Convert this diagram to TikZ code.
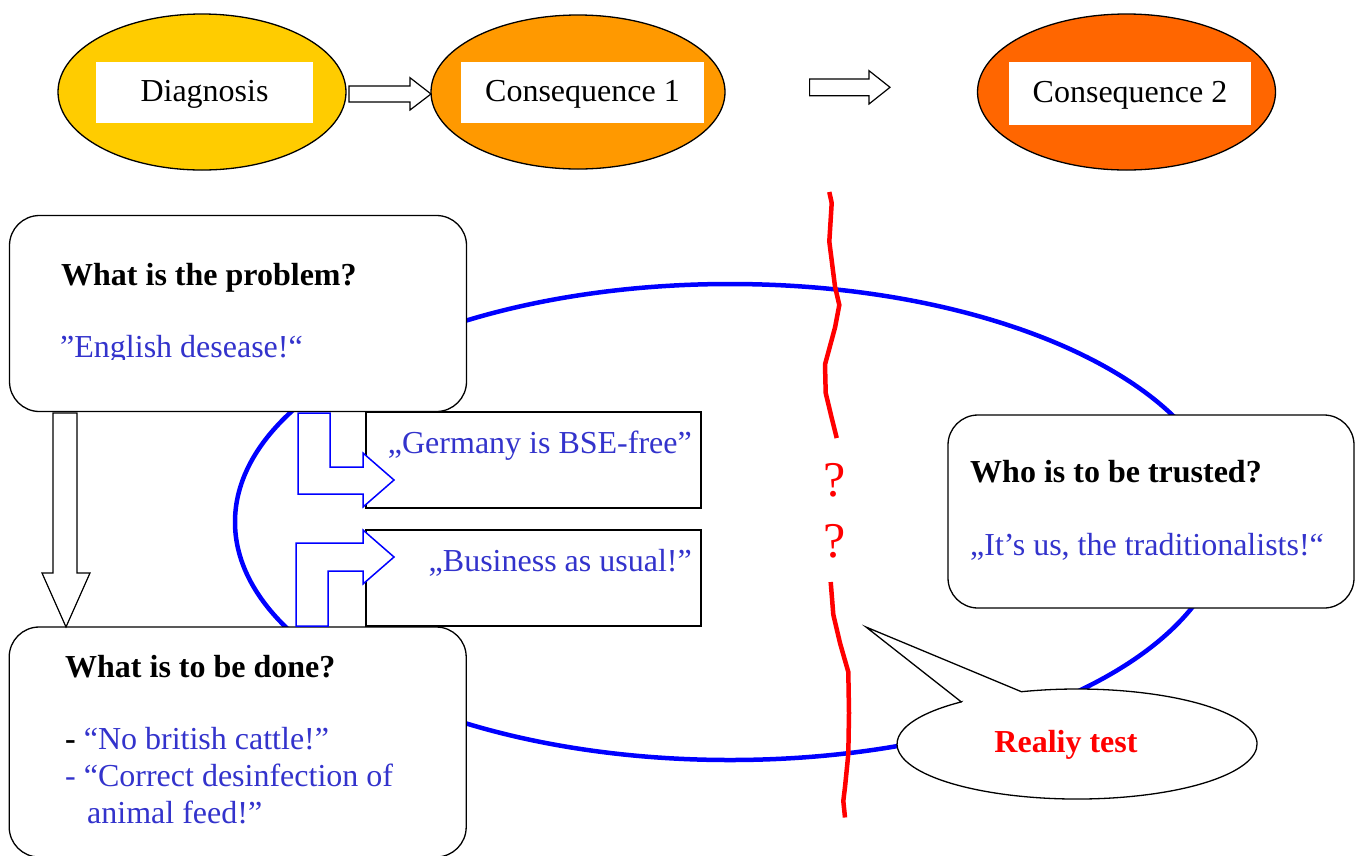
\documentclass[tikz,border=0pt]{standalone}
\usepackage{fontspec}
\setmainfont{Liberation Serif}
\usetikzlibrary{shapes.geometric}
\definecolor{txtblue}{RGB}{51,51,204}
\definecolor{diagfill}{RGB}{255,204,0}
\definecolor{consafill}{RGB}{255,153,0}
\definecolor{consbfill}{RGB}{255,102,0}
\begin{document}
\begin{tikzpicture}[x=1pt,y=-1pt,
  font=\fontsize{32}{37}\selectfont,
  oval/.style={ellipse, draw=black, line width=1.3pt, inner sep=0},
  labelbox/.style={fill=white, inner sep=0, text=black, text height=24pt, text depth=7pt},
  roundbox/.style={draw=black, fill=white, rounded corners=30pt, line width=1.3pt, inner sep=0},
  plainbox/.style={draw=black, fill=white, line width=1.3pt, inner sep=0},
  blockarrow/.style={draw=black, fill=white, line width=1.2pt, line join=miter},
  bentarrow/.style={draw=blue, fill=white, line width=1.5pt, line join=miter},
  txt/.style={inner sep=0, anchor=base west},
  qt/.style={txt, text=txtblue},
  hd/.style={txt, font=\fontsize{32}{37}\selectfont\bfseries},
  loop/.style={draw=blue, line width=4.5pt},
  cut/.style={draw=red, line width=4.5pt, line join=miter},
  qmark/.style={text=red, inner sep=0, font=\fontsize{50}{52}\selectfont}
]
\useasboundingbox (0,0) rectangle (1356,855);

% top row
\node[oval, fill=diagfill, minimum width=288, minimum height=156] (diag) at (202,92) {};
\node[labelbox, minimum width=217, minimum height=61] (diagl) at (204.5,92.5) {Diagnosis};
\node[oval, fill=consafill, minimum width=294, minimum height=154] (consa) at (578,92) {};
\node[labelbox, minimum width=243, minimum height=61] (consal) at (582.5,92.5) {Consequence 1};
\node[oval, fill=consbfill, minimum width=298, minimum height=156] (consb) at (1126.5,92) {};
\node[labelbox, minimum width=242, minimum height=63] (consbl) at (1130,93.5) {Consequence 2};

\draw[blockarrow] (349,86) -- (410,86) -- (410,77.7) -- (431,94) -- (410,110) -- (410,102) -- (349,102) -- cycle;
\draw[blockarrow] (809.6,79) -- (869,79) -- (869,70.7) -- (890,87.3) -- (869,104) -- (869,95.7) -- (809.6,95.7) -- cycle;

% blue loop
\draw[loop] (730,522) ellipse [x radius=495, y radius=238];

% red cut line
\draw[cut] (829.3,192) -- (831.7,203) -- (829.3,241.5) -- (835,286.6) -- (839.3,305) -- (835,327.6) -- (825,364.5) -- (825.7,393) -- (831.7,418) -- (836.7,438);
\draw[cut] (830.7,582) -- (833.3,614.6) -- (840,643) -- (848.3,672) -- (849,713) -- (848.3,754) -- (845,787) -- (843.3,801) -- (845,817.5);
\node[qmark] (qa) at (835,480) {?};
\node[qmark] (qb) at (835,541) {?};

% slogan boxes
\node[plainbox, minimum width=335, minimum height=96] (bse) at (533.5,460) {};
\node[qt, anchor=base east] (bset) at (692,453) {„Germany is BSE-free”};
\node[plainbox, minimum width=335, minimum height=96] (bau) at (533.5,578) {};
\node[qt, anchor=base east] (baut) at (692,571) {„Business as usual!”};

% rounded boxes
\node[roundbox, minimum width=457, minimum height=196] (prob) at (238,313.5) {};
\node[roundbox, minimum width=457, minimum height=230] (done) at (237.7,742) {};
\node[roundbox, minimum width=406, minimum height=193] (trust) at (1151,511.5) {};

\node[hd] (probh) at (61,285) {What is the problem?};
\begin{scope}
  \clip (40,320) rectangle (460,359);
  \node[qt] (probt) at (60,357) {”English desease!“};
\end{scope}
\node[hd] (doneh) at (65,677) {What is to be done?};
\node[txt] (donea) at (65,749) {\textbf{-} \textcolor{txtblue}{“No british cattle!”}};
\node[qt] (doneb) at (65,786) {- “Correct desinfection of};
\node[qt] (donec) at (87,823) {animal feed!”};
\node[hd] (trusth) at (970,482) {Who is to be trusted?};
\node[qt] (trustt) at (970,555) {„It’s us, the traditionalists!“};

% arrows between boxes
\draw[blockarrow] (53,413) -- (77,413) -- (77,573) -- (90,573) -- (66,627) -- (42,573) -- (53,573) -- cycle;
\draw[bentarrow] (298,413) -- (330,413) -- (330,467) -- (363,467) -- (363,453) -- (394,480) -- (363,507) -- (363,494) -- (298,494) -- cycle;
\draw[bentarrow] (328,626) -- (296,626) -- (296,543) -- (363,543) -- (363,530) -- (394,557) -- (363,584) -- (363,571) -- (328,571) -- cycle;

% reality test bubble
\draw[draw=black, fill=white, line width=1.3pt, line join=miter] (961.3,701.9) -- (866,627) -- (1021.4,691.7) arc[start angle=-108, end angle=230, x radius=180, y radius=55] -- cycle;
\node[text=red, font=\fontsize{32}{37}\selectfont\bfseries, inner sep=0] (real) at (1066,745) {Realiy test};
\end{tikzpicture}
\end{document}
